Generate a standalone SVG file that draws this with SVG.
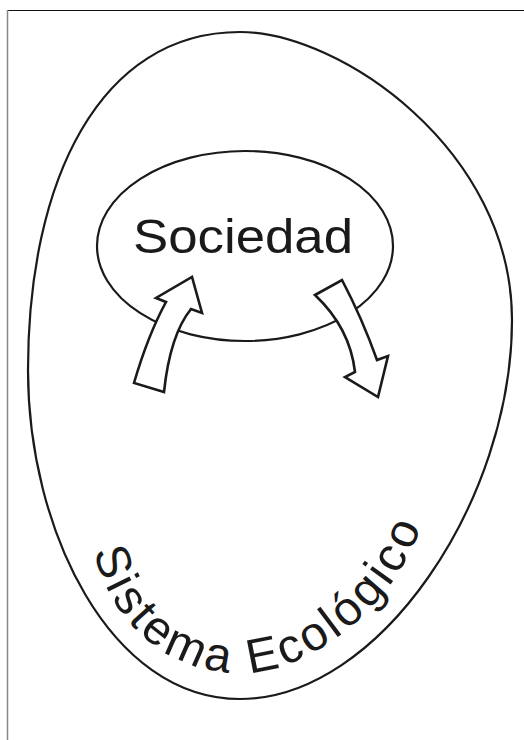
<svg xmlns="http://www.w3.org/2000/svg" width="524" height="740" viewBox="0 0 524 740">
<style>
.shape{fill:none;stroke:#1a1a1a;stroke-width:2.2}
.arrow{fill:#ffffff;stroke:#1a1a1a;stroke-width:2.6;stroke-linejoin:miter}
.lbl{font-family:"Liberation Sans",Arial,sans-serif;font-size:48px;fill:#1a1a1a}
</style>
<defs>
<path id="ecoPath" d="M 94,551 C 115,640 185,674 244,673 C 315,672 408,598 428,502"/>
</defs>
<rect x="0" y="0" width="524" height="740" fill="#ffffff"/>
<line x1="7" y1="10.5" x2="524" y2="10.5" stroke="#111" stroke-width="1.2"/>
<line x1="7.5" y1="10" x2="7.5" y2="740" stroke="#888" stroke-width="1.5"/>
<g id="sistema-ecologico">
<path class="shape" d="M 240,32 C 340,32 512,150 512,320 C 512,500 380,699 240,699 C 110,699 28,530 28,370 C 28,180 100,32 240,32 Z"/>
<text class="lbl"><textPath href="#ecoPath" textLength="452" lengthAdjust="spacing">Sistema Ecológico</textPath></text>
</g>
<g id="sociedad">
<ellipse class="shape" cx="245" cy="246" rx="148" ry="95"/>
<text class="lbl" x="133" y="253" textLength="220" lengthAdjust="spacingAndGlyphs">Sociedad</text>
</g>
<g id="connectors">
<path class="arrow" d="M 134,383 Q 148,335 166,302 L 156,298 L 192,277 L 202,313 L 191,309 Q 170,335 164,392 Z"/>
<path class="arrow" d="M 315,295 L 342,280 Q 362,318 377,360 L 388,356 L 378,397 L 345,377 L 355,372 Q 350,328 315,295 Z"/>
</g>
</svg>
